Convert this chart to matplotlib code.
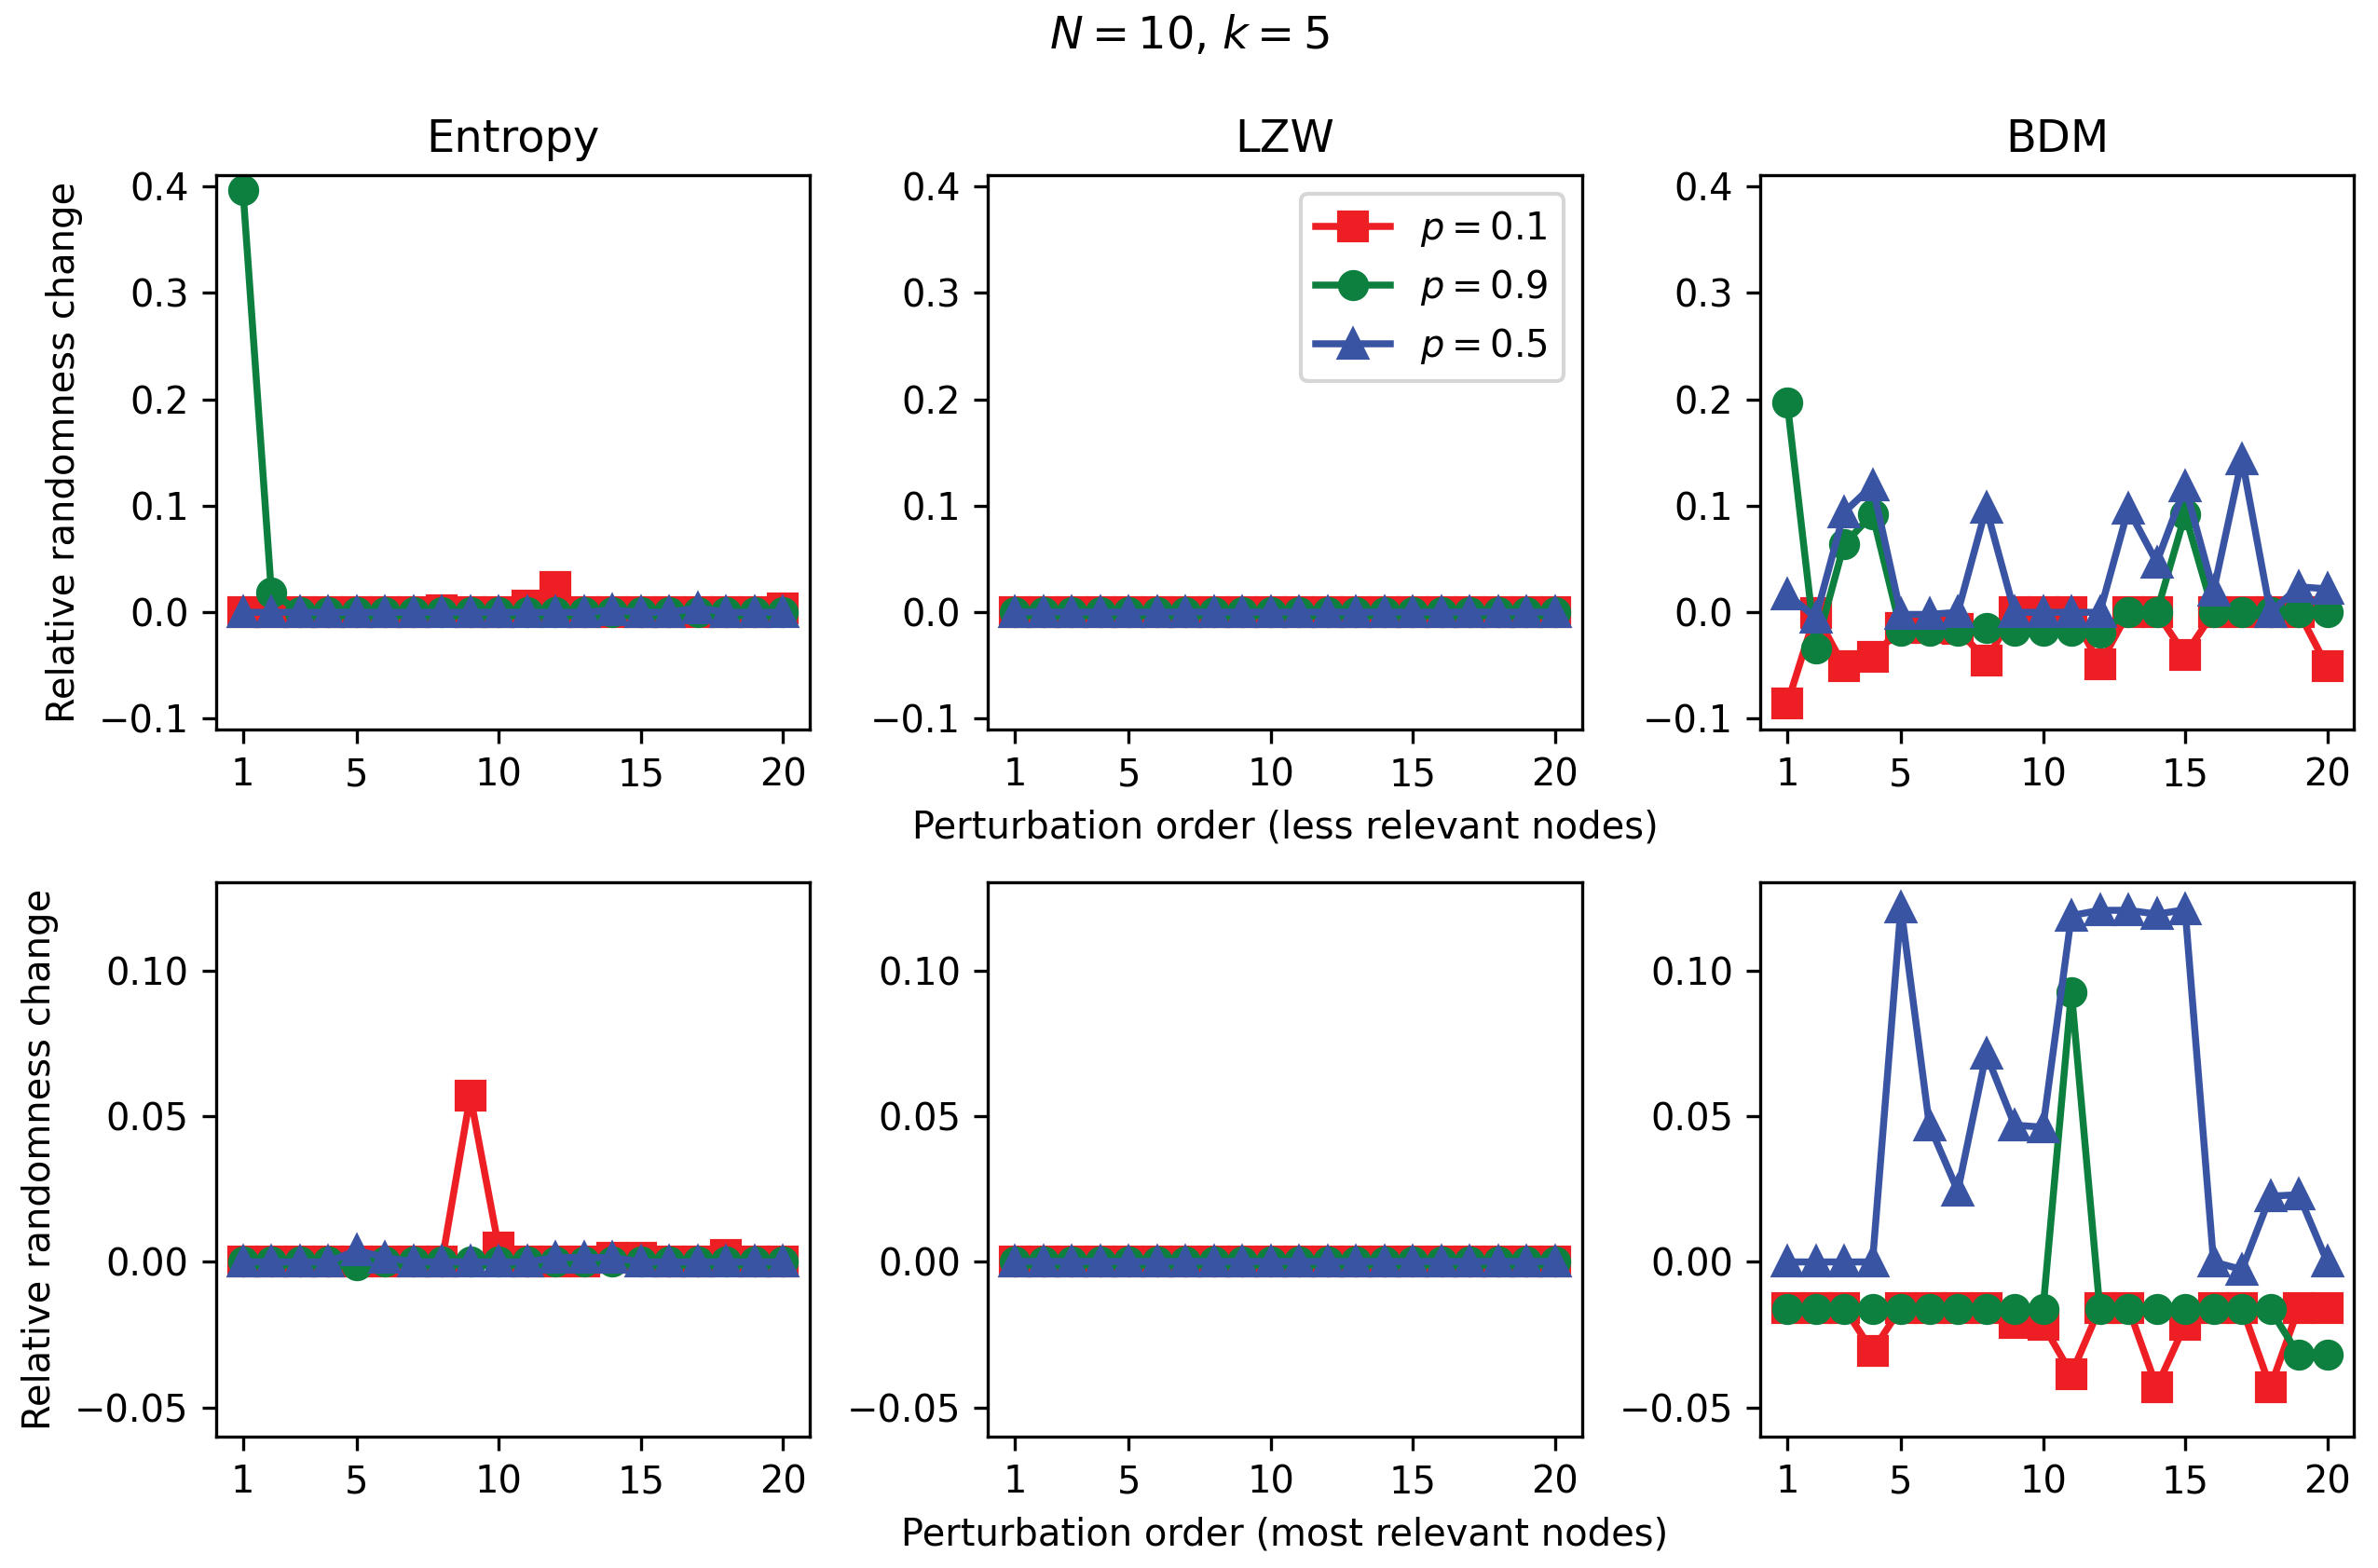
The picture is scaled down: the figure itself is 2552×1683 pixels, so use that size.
import matplotlib
matplotlib.use("Agg")
import matplotlib.pyplot as plt

# perturbation order (x axis)
order = list(range(1, 21))

# top row: less relevant nodes
ent_top_p01 = [0, 0, 0, 0, 0, 0, 0, 0.002, 0, 0, 0.006, 0.024, 0, 0, 0, 0, 0, 0, 0, 0.004]
ent_top_p09 = [0.397, 0.019, 0, 0, 0, 0, 0, 0, 0, 0, 0, 0, 0, 0, 0, 0, 0, 0, 0, 0]
ent_top_p05 = [0, 0, 0, 0, 0, 0, 0, 0, 0, 0, 0, 0, 0, 0.002, 0, 0, 0.004, 0, 0, 0]

lzw_top_p01 = [0] * 20
lzw_top_p09 = [0] * 20
lzw_top_p05 = [0] * 20

bdm_top_p01 = [-0.086, -0.001, -0.051, -0.042, -0.015, -0.015, -0.016, -0.045, 0, 0,
               0, -0.049, 0, 0, -0.040, 0, 0, 0, 0, -0.051]
bdm_top_p09 = [0.197, -0.034, 0.064, 0.092, -0.017, -0.017, -0.017, -0.015, -0.017, -0.017,
               -0.017, -0.019, 0, 0, 0.092, 0, 0, 0, 0, 0]
bdm_top_p05 = [0.017, -0.005, 0.094, 0.119, -0.002, -0.002, 0.0, 0.098, 0, 0,
               0, 0, 0.097, 0.047, 0.118, 0.020, 0.144, 0, 0.024, 0.022]

# bottom row: most relevant nodes
ent_bot_p01 = [0, 0, 0, 0, 0, 0, 0, 0, 0.057, 0.005, 0, 0, 0, 0.0015, 0.0015, 0, 0, 0.0025, 0, 0]
ent_bot_p09 = [0, 0, 0, 0, -0.001, 0, 0, 0, 0, 0, 0, 0, 0, 0, 0, 0, 0, 0, 0, 0]
ent_bot_p05 = [0, 0, 0, 0, 0.004, 0.0015, 0, 0, 0, 0, 0, 0.0015, 0.0015, 0.0015, 0, 0, 0, 0, 0, 0]

lzw_bot_p01 = [0] * 20
lzw_bot_p09 = [0] * 20
lzw_bot_p05 = [0] * 20

bdm_bot_p01 = [-0.0157, -0.0157, -0.0157, -0.0307, -0.0157, -0.0157, -0.0157, -0.0157, -0.021, -0.0215,
               -0.0385, -0.0157, -0.0157, -0.043, -0.0215, -0.0157, -0.0157, -0.043, -0.0157, -0.0157]
bdm_bot_p09 = [-0.0163] * 10 + [0.0927] + [-0.0163] * 7 + [-0.032, -0.032]
bdm_bot_p05 = [0, 0, 0, 0, 0.1218, 0.047, 0.0244, 0.0714, 0.047, 0.0463,
               0.119, 0.1208, 0.1208, 0.1195, 0.121, 0, -0.0026, 0.0226, 0.0231, 0]

titles = ["Entropy", "LZW", "BDM"]
labels = ["$p=0.1$", "$p=0.9$", "$p=0.5$"]
colors = ["#ed1f24", "#0d803f", "#3a54a4"]
markers = ["s", "o", "^"]

top_data = [
    [ent_top_p01, ent_top_p09, ent_top_p05],
    [lzw_top_p01, lzw_top_p09, lzw_top_p05],
    [bdm_top_p01, bdm_top_p09, bdm_top_p05],
]
bot_data = [
    [ent_bot_p01, ent_bot_p09, ent_bot_p05],
    [lzw_bot_p01, lzw_bot_p09, lzw_bot_p05],
    [bdm_bot_p01, bdm_bot_p09, bdm_bot_p05],
]

fs = 9.6

fig, axes = plt.subplots(2, 3, figsize=(2552 / 300, 1683 / 300), dpi=300)
fig.subplots_adjust(left=0.0908, right=0.990, bottom=0.0838, top=0.8883,
                    wspace=0.3, hspace=0.276)

for row, data in enumerate([top_data, bot_data]):
    for col in range(3):
        ax = axes[row, col]
        for series, lab, c, m in zip(data[col], labels, colors, markers):
            ax.plot(order, series, color=c, marker=m, markersize=7,
                    linewidth=1.8, label=lab)
        ax.set_xlim(0.05, 20.95)
        ax.set_xticks([1, 5, 10, 15, 20])
        if row == 0:
            ax.set_ylim(-0.110, 0.4107)
            ax.set_yticks([-0.1, 0.0, 0.1, 0.2, 0.3, 0.4])
            ax.set_title(titles[col], fontsize=11.5)
        else:
            ax.set_ylim(-0.060, 0.1304)
            ax.set_yticks([-0.05, 0.0, 0.05, 0.10])
        ax.tick_params(labelsize=fs)

axes[0, 0].set_ylabel("Relative randomness change", fontsize=fs)
axes[1, 0].set_ylabel("Relative randomness change", fontsize=fs)
axes[0, 1].set_xlabel("Perturbation order (less relevant nodes)", fontsize=fs)
axes[1, 1].set_xlabel("Perturbation order (most relevant nodes)", fontsize=fs)

axes[0, 1].legend(loc="upper right", fontsize=fs)

fig.suptitle("$N=10$, $k=5$", fontsize=11.5, y=0.991)

fig.savefig("out.png", dpi=300)
